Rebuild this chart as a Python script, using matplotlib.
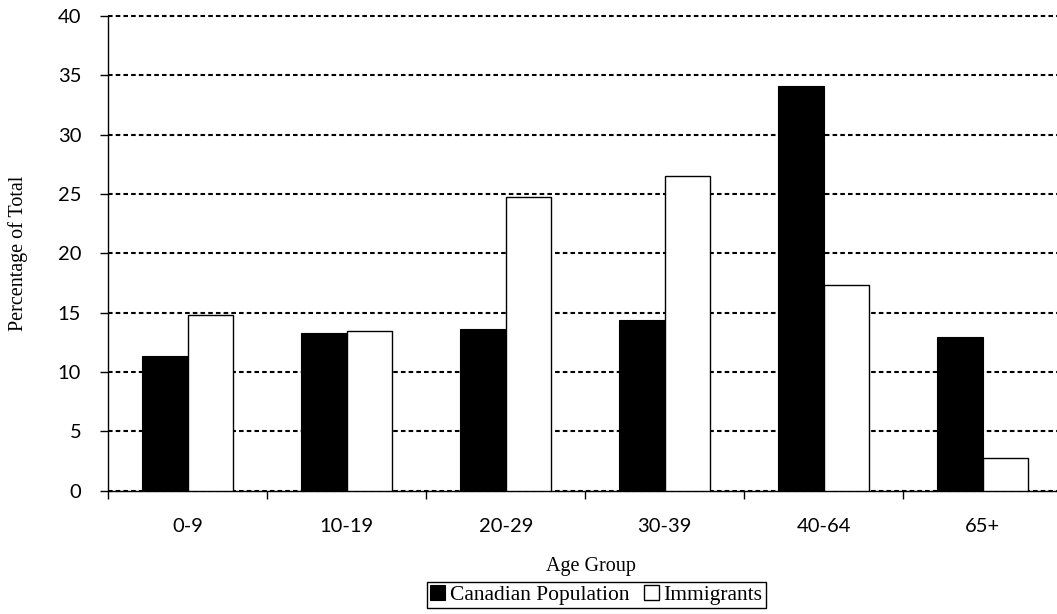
import numpy as np
import matplotlib
matplotlib.use("Agg")
import matplotlib.pyplot as plt

# Age distribution, percent of total
age_groups = ["0-9", "10-19", "20-29", "30-39", "40-64", "65+"]
canadian_pop = [11.3, 13.25, 13.65, 14.4, 34.1, 12.9]
immigrants = [14.8, 13.45, 24.7, 26.5, 17.3, 2.75]

W, H = 1057, 614
fig = plt.figure(figsize=(W / 100, H / 100), dpi=100)

# plot area runs slightly past the right edge of the canvas
left, bottom, top = 108.3, 490.5, 16.0
cat_w = 159.0
ax = fig.add_axes([left / W, 1 - bottom / H, 6 * cat_w / W, (bottom - top) / H])

x = np.arange(len(age_groups))
bw = 0.286
ax.bar(x - bw / 2, canadian_pop, bw, color="black", edgecolor="black", linewidth=0.8,
       label="Canadian Population", zorder=3)
ax.bar(x + bw / 2, immigrants, bw, color="white", edgecolor="black", linewidth=1.0,
       label="Immigrants", zorder=3)

ax.set_xlim(-0.5, len(age_groups) - 0.5)
ax.set_ylim(0, 40)
ax.set_yticks(np.arange(0, 41, 5))
ax.yaxis.grid(True, color="black", linestyle=(0, (2.2, 1.5)), linewidth=1.5)
ax.set_axisbelow(True)
for gl in ax.get_ygridlines():
    gl.set_clip_on(False)

# category boundaries get the tick marks, labels sit in between
ax.set_xticks(np.arange(-0.5, len(age_groups)))
ax.set_xticklabels([])
ax.set_xticks(x, minor=True)
ax.set_xticklabels(age_groups, minor=True)
ax.tick_params(axis="x", which="major", length=5.5, width=1, direction="out")
ax.tick_params(axis="x", which="minor", length=0, pad=20)
ax.tick_params(axis="y", length=5.5, width=1, direction="out", pad=14)

for lab in ax.get_xticklabels(minor=True) + ax.get_yticklabels():
    lab.set_fontfamily("Lato")
    lab.set_fontsize(14.5)

for side in ("top", "right"):
    ax.spines[side].set_visible(False)
ax.spines["left"].set_linewidth(1)
ax.spines["bottom"].set_linewidth(1)

label_font = dict(family="Liberation Serif", size=14.5)
ax.set_xlabel("Age Group", **label_font)
ax.xaxis.set_label_coords((591 - left) / (6 * cat_w), -(566 - bottom) / (bottom - top))
ax.xaxis.label.set_va("center")
ax.set_ylabel("Percentage of Total", **label_font)
ax.yaxis.set_label_coords(-(left - 18.5) / (6 * cat_w), 0.5)
ax.yaxis.label.set_va("center")

leg = fig.legend(loc="center", bbox_to_anchor=(596.5 / W, 1 - 595 / H), ncol=2,
                 prop=dict(family="Liberation Serif", size=15.5),
                 frameon=True, fancybox=False, framealpha=1, edgecolor="black",
                 handlelength=0.7, handleheight=0.7, handletextpad=0.2,
                 columnspacing=0.7, borderpad=0.15, borderaxespad=0)
leg.get_frame().set_linewidth(1)

fig.savefig("out.png", dpi=100)
